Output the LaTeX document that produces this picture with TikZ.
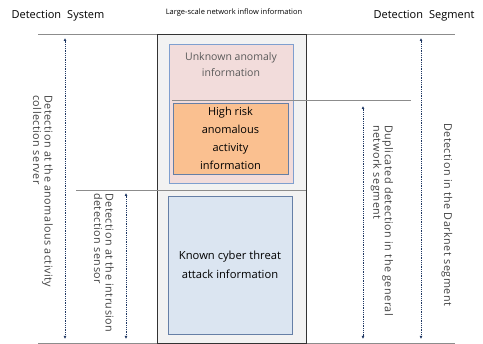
\documentclass[tikz,border=0pt]{standalone}
\usepackage{fontspec}
\setmainfont{Open Sans}
\newfontfamily\sidefont[LetterSpace=4.5]{Open Sans}
\usetikzlibrary{arrows.meta,shadows}

\definecolor{rulegray}{HTML}{8C8C8C}
\definecolor{spanblue}{HTML}{1F3864}
\definecolor{inflowgray}{HTML}{F2F2F2}
\definecolor{unknownpink}{HTML}{F2DCDB}
\definecolor{riskorange}{HTML}{FAC090}
\definecolor{knownblue}{HTML}{DBE5F1}
\definecolor{boxedge}{HTML}{7F9FCF}

\begin{document}
\begin{tikzpicture}[x=1pt,y=-1pt,
    rule/.style={draw=rulegray,line width=0.8pt},
    span/.style={spanblue,densely dotted,line width=0.8pt,
      {Latex[length=3pt,width=3pt]}-{Latex[length=3pt,width=3pt]}},
    side/.style={rotate=-90,anchor=west,align=left,inner sep=0pt,
      text=black!75,font=\sidefont\fontsize{10.8}{11.5}\selectfont},
    infobox/.style={draw=boxedge,line width=0.6pt,align=center,inner sep=0pt}]
        \useasboundingbox (0,0) rectangle (483,344);

        % headings
        \node (sys) at (58,16) {\fontsize{11}{13}\selectfont Detection\hspace{0.55em}System};
        \node (seg) at (424,16) {\fontsize{11}{13}\selectfont Detection\hspace{0.55em}Segment};
        \node (inflowtitle) at (234,13) {\fontsize{7.5}{8}\selectfont Large-scale network inflow information};

        % top and bottom rules
        \draw[rule] (38,34) -- (455,34);
        \draw[rule] (38,343) -- (455,343);

        % inflow column
        \node[draw=black!80,fill=inflowgray,line width=0.8pt,minimum width=149pt,minimum height=309pt,inner sep=0pt] (inflow) at (231.5,188.5) {};
        \node[infobox,fill=unknownpink,minimum width=124pt,minimum height=139pt] (unknown) at (231,113.5) {};
        \node[text=black!65,align=center,font=\fontsize{10.5}{16}\selectfont] (unknowntxt) at (231,65) {Unknown anomaly\\information};
        \draw[rule] (172,100) -- (411,100);
        \node[infobox,draw=boxedge!80!black,fill=riskorange,minimum width=115pt,minimum height=71pt,
          drop shadow={opacity=0.35,shadow xshift=1pt,shadow yshift=-1.5pt},font=\fontsize{11}{17.8}\selectfont] (risk) at (230.5,138.5) {High risk\\anomalous\\activity\\information};
        \draw[rule] (76,190) -- (306,190);
        \node[infobox,draw=boxedge!80!black,fill=knownblue,minimum width=124pt,minimum height=138pt,
          drop shadow={opacity=0.35,shadow xshift=1pt,shadow yshift=-1.5pt},font=\fontsize{11.2}{18.5}\selectfont] (known) at (230,265) {Known cyber threat\\attack information};

        % detection spans
        \coordinate (servertop) at (65,38);
        \coordinate (serverbot) at (65,339);
        \coordinate (sensortop) at (126,193);
        \coordinate (sensorbot) at (126,339);
        \coordinate (generaltop) at (363,106);
        \coordinate (generalbot) at (363,339);
        \coordinate (darktop) at (421,38);
        \coordinate (darkbot) at (421,339);
        \draw[span] (servertop) -- (serverbot);
        \draw[span] (sensortop) -- (sensorbot);
        \draw[span] (generaltop) -- (generalbot);
        \draw[span] (darktop) -- (darkbot);

        \node[side] (server) at (43,95) {Detection at the anomalous activity\\collection server};
        \node[side] (sensor) at (104,193) {Detection at the intrusion\\detection sensor};
        \node[side] (general) at (382,125) {Duplicated detection in the general\\network segment};
        \node[side] (dark) at (447,123) {Detection in the Darknet segment};
      \end{tikzpicture}
\end{document}
